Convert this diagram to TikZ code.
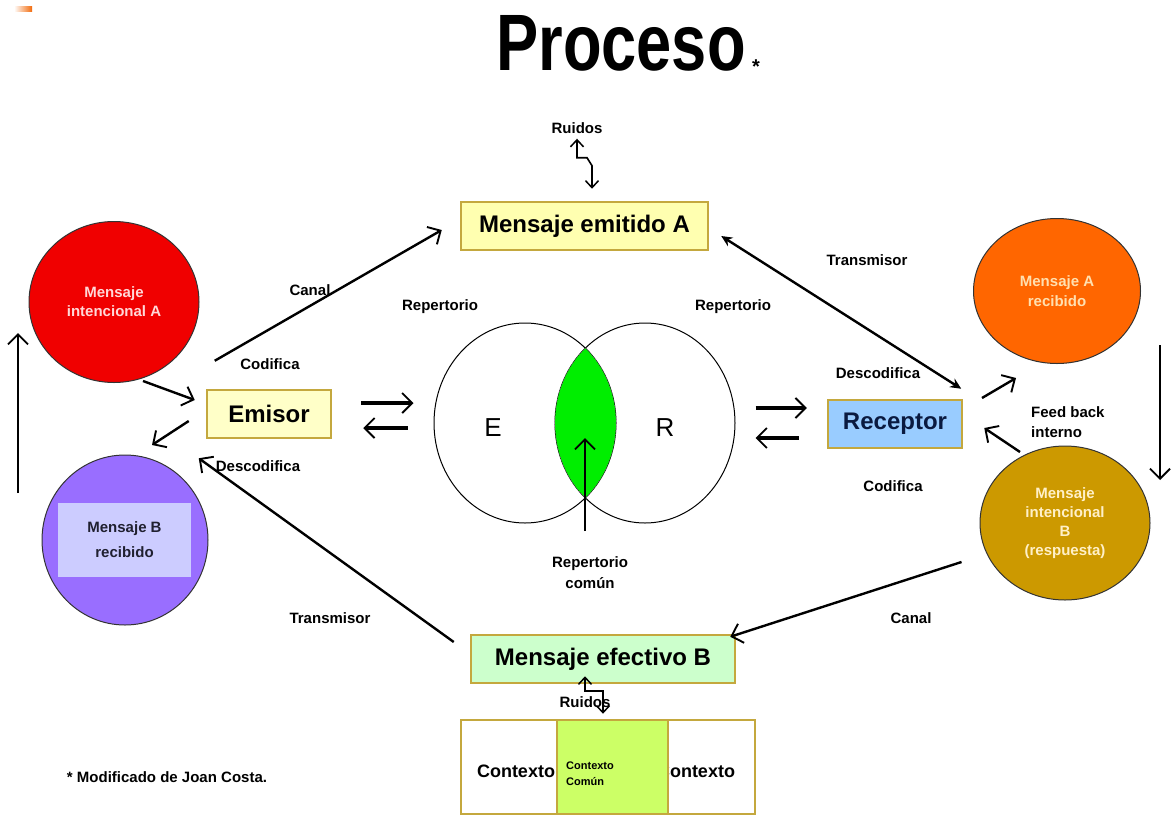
\documentclass[tikz,border=0pt]{standalone}
\usepackage{fontspec}
\setmainfont{Liberation Sans}
\usetikzlibrary{arrows.meta,shapes.geometric,calc}

\definecolor{boxgold}{RGB}{196,168,62}
\definecolor{yelA}{RGB}{255,255,176}
\definecolor{yelB}{RGB}{255,255,200}
\definecolor{recblue}{RGB}{153,204,255}
\definecolor{effgreen}{RGB}{204,255,204}
\definecolor{ctxgreen}{RGB}{204,255,102}
\definecolor{lensgreen}{RGB}{0,238,0}
\definecolor{redc}{RGB}{240,0,0}
\definecolor{purplec}{RGB}{153,110,255}
\definecolor{lavender}{RGB}{204,204,255}
\definecolor{orangec}{RGB}{255,102,0}
\definecolor{goldc}{RGB}{204,153,0}
\definecolor{navy}{RGB}{10,26,64}

\newcommand{\fs}[1]{\fontsize{#1}{#1}\selectfont}

\begin{document}
\begin{tikzpicture}[x=1pt,y=-1pt,
  lbl/.style={font=\bfseries\fs{15}, inner sep=0},
  box/.style={draw=boxgold, line width=2.5pt, inner sep=0, minimum height=48,
              font=\bfseries\fs{24}},
  bubble/.style={ellipse, draw=black!80, line width=1pt, inner sep=0,
                 align=center, font=\bfseries\fs{15}},
  barb/.style={-{Straight Barb[length=10pt,width=20pt,line width=1.9pt]}},
  conn/.style={barb, line width=2.4pt},
  heavy/.style={barb, line width=3.6pt},
  zigtip/.tip={Straight Barb[length=7pt,width=13pt,line width=1.5pt]},
  zig/.style={line width=1.6pt, {zigtip}-{zigtip}},
  ctx/.style={draw=boxgold, line width=2.5pt, minimum width=96, minimum height=94, inner sep=0}
]
\useasboundingbox (0,0) rectangle (1173,817);

% small corner mark
\shade[left color=white, right color=orangec!80!brown] (14,6) rectangle (32,11);

% title
\node[inner sep=0, anchor=base] (title) at (621,70) {\scalebox{0.79}[1]{\bfseries\fs{80}Proceso}};
\node[inner sep=0, font=\bfseries\fs{20}] (star) at (756,67) {*};

% boxes
\node[box, fill=yelA, minimum width=247] (emitA) at (584.5,226) {Mensaje emitido A};
\node[box, fill=yelB, minimum width=124] (emisor) at (269,414) {Emisor};
\node[box, fill=recblue, minimum width=134, text=navy] (receptor) at (895,424) {Receptor};
\node[box, fill=effgreen, minimum width=264] (efB) at (603,659) {Mensaje efectivo B};

% context boxes
\node[ctx, fill=white] (ctxL) at (509,767) {};
\node[inner sep=0, font=\bfseries\fs{18}] (ctxLt) at (516,771) {Contexto};
\node[ctx, fill=white, minimum width=87] (ctxR) at (711.5,767) {};
\node[inner sep=0, font=\bfseries\fs{18}] (ctxRt) at (696,771) {Contexto};
\node[ctx, fill=ctxgreen, minimum width=111] (ctxM) at (612.5,767) {};
\node[inner sep=0, font=\bfseries\fs{11}, align=left, anchor=west] (ctxMt) at (566,774) {Contexto\\[5pt]Común};

% message bubbles
\node[bubble, fill=redc, text={rgb,255:red,255;green,216;blue,216}, minimum width=170, minimum height=161] (intA) at (114,302) {Mensaje\\[4pt]intencional A};
\node[bubble, fill=purplec, minimum width=166, minimum height=170] (recB) at (125,540) {};
\node[fill=lavender, minimum width=133, minimum height=74, inner sep=0, align=center, font=\bfseries\fs{15}, text={rgb,255:red,32;green,32;blue,48}] (recBt) at (124.5,540) {Mensaje B\\[10pt]recibido};
\node[bubble, fill=orangec, text={rgb,255:red,255;green,224;blue,176}, minimum width=167, minimum height=145] (recA) at (1057,291) {Mensaje A\\[5pt]recibido};
\node[bubble, fill=goldc, text={rgb,255:red,255;green,240;blue,200}, minimum width=170, minimum height=154] (intB) at (1065,523) {Mensaje\\[4pt]intencional\\[4pt]B\\[4pt](respuesta)};

% repertoire diagram
\node[ellipse, draw, line width=1pt, minimum width=182, minimum height=200, inner sep=0] (repE) at (525,423) {};
\node[ellipse, draw, line width=1pt, minimum width=180, minimum height=200, inner sep=0] (repR) at (645,423) {};
\begin{scope}
  \clip (repE.center) ellipse [x radius=91, y radius=100];
  \fill[lensgreen] (repR.center) ellipse [x radius=90, y radius=100];
  \draw[dotted, line width=0.8pt, black!60] (repR.center) ellipse [x radius=90, y radius=100];
\end{scope}
\begin{scope}
  \clip (repR.center) ellipse [x radius=90, y radius=100];
  \draw[dotted, line width=0.8pt, black!60] (repE.center) ellipse [x radius=91, y radius=100];
\end{scope}
\node[inner sep=0, font=\fs{26}] (E) at (493,428) {E};
\node[inner sep=0, font=\fs{26}] (R) at (665,428) {R};
\coordinate (lensTip) at (585,438);
\coordinate (lensFoot) at (585,531);
\draw[conn, line width=2pt] (lensFoot) -- (lensTip);

% labels
\node[lbl] (canalL) at (310,290) {Canal};
\node[lbl] (codL) at (270,364) {Codifica};
\node[lbl] (descL) at (258,466) {Descodifica};
\node[lbl] (transL) at (330,618) {Transmisor};
\node[lbl] (repLt) at (440,307) {Repertorio};
\node[lbl] (repRt) at (733,307) {Repertorio};
\node[lbl] (transR) at (867,260) {Transmisor};
\node[lbl] (descR) at (878,373) {Descodifica};
\node[lbl] (codR) at (893,486) {Codifica};
\node[lbl, align=left, anchor=west] (feed) at (1031,422) {Feed back\\[5pt]interno};
\node[lbl] (canalR) at (911,618) {Canal};
\node[lbl, align=center] (repCom) at (590,573) {Repertorio\\[6pt]común};
\node[lbl] (ruidosA) at (577,128) {Ruidos};
\node[lbl] (ruidosB) at (585,702) {Ruidos};
\node[inner sep=0, font=\bfseries\fs{15}] (credit) at (167,777) {* Modificado de Joan Costa.};

% noise arrows
\draw[zig] ($(ruidosA.south)+(0,5)$) -- ++(0,19) -- ++(10,0) -- ++(5,8) -- ($(emitA.north)+(7.5,-12)$);
\draw[zig] ($(efB.south)+(-18,-8)$) -- ++(0,15) -- ++(18,0) -- ($(ctxM.north)+(-9.5,-5)$);

% channels on the emitter side
\draw[conn] ($(intA)+(29,79)$) -- ($(emisor.west)+(-11,-14)$);
\draw[conn] ($(emisor.west)+(-17,7)$) -- ($(recB)+(27,-95)$);
\draw[conn] ($(emisor.north west)+(9,-28)$) -- ($(emitA.west)+(-18,4)$);
\draw[conn] ($(efB.west)+(-16,-17)$) -- ($(emisor.south west)+(-7,19)$);
\draw[conn] ($(recB)+(-107,-47)$) -- ($(intA)+(-96,31)$);

% channels on the receiver side
\draw[line width=2.4pt, {Stealth[length=11pt,width=10pt]}-{Stealth[length=11pt,width=10pt]}]
  ($(emitA.east)+(12,10)$) -- ($(receptor.north east)+(-2,-10)$);
\draw[conn] ($(recA)+(-75,107)$) -- ($(recA)+(-41,87)$);
\draw[conn] ($(intB)+(-45,-71)$) -- ($(receptor.east)+(21,4)$);
\draw[conn] ($(recA)+(103,54)$) -- ($(intB)+(95,-43)$);
\draw[conn] ($(intB.west)+(-18,39)$) -- ($(efB.north east)+(-6,3)$);

% exchanges with the repertoires
\draw[heavy] ($(emisor.east)+(29,-11)$) -- ($(repE.west)+(-20,-20)$);
\draw[heavy] ($(repE.west)+(-26,5)$) -- ($(emisor.east)+(31,14)$);
\draw[heavy] ($(repR.east)+(20,-15)$) -- ($(receptor.west)+(-20,-16)$);
\draw[heavy] ($(receptor.west)+(-28,14)$) -- ($(repR.east)+(20,15)$);
\end{tikzpicture}
\end{document}
